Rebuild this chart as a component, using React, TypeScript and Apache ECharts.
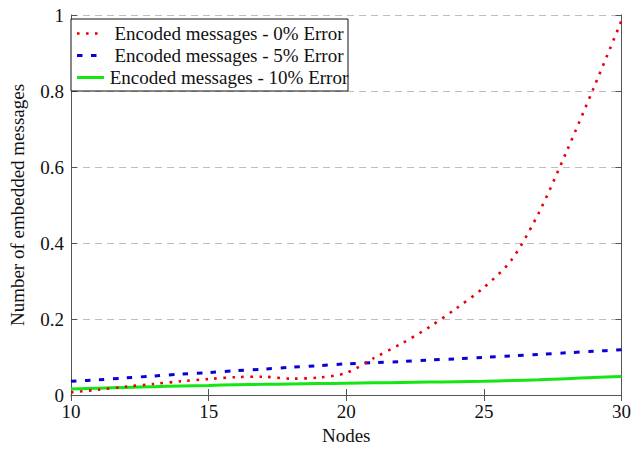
import React, { useEffect, useRef } from "react";
import * as echarts from "echarts";

// Number of nodes on the x axis
const nodes = [10, 11, 12, 13, 14, 15, 16, 17, 18, 19, 20, 21, 22, 23, 24, 25, 26, 27, 28, 29, 30];

// Embedded messages for each error rate
const error0 = [0.007, 0.014, 0.022, 0.029, 0.036, 0.042, 0.047, 0.048, 0.043, 0.046, 0.058, 0.097, 0.135, 0.178, 0.228, 0.283, 0.355, 0.48, 0.64, 0.81, 0.985];
const error5 = [0.036, 0.04, 0.045, 0.05, 0.055, 0.059, 0.064, 0.068, 0.073, 0.077, 0.082, 0.085, 0.088, 0.092, 0.095, 0.099, 0.103, 0.107, 0.111, 0.115, 0.119];
const error10 = [0.016, 0.018, 0.02, 0.022, 0.024, 0.025, 0.027, 0.028, 0.029, 0.03, 0.031, 0.032, 0.033, 0.034, 0.035, 0.036, 0.038, 0.04, 0.043, 0.046, 0.049];

const seriesNames = [
  "Encoded messages - 0% Error",
  "Encoded messages - 5% Error",
  "Encoded messages - 10% Error",
];

const yTicks = [0, 0.2, 0.4, 0.6, 0.8, 1];

const FONT = "Liberation Serif";
const AXIS_COLOR = "#555";
const RED = "#e8000b";
const BLUE = "#0a00d6";
const GREEN = "#14e614";

const styles = [
  { color: RED, width: 2.6, type: [2.6, 6.4] as number[], cap: "butt" },
  { color: BLUE, width: 3, type: [5.5, 8.5] as number[], cap: "butt" },
  { color: GREEN, width: 3, type: "solid" as any, cap: "butt" },
];

const pairs = (vals: number[]) => nodes.map((n, i) => [n, vals[i]]);

export default function App() {
  const ref = useRef<HTMLDivElement>(null);

  useEffect(() => {
    if (!ref.current) return;
    const chart = echarts.init(ref.current, null, { renderer: "svg" });

    const legendX = 71;
    const legendY = 19;
    const rowYs = [33.5, 55.5, 77.5];

    const legendItems: any[] = [
      {
        type: "rect",
        shape: { x: legendX, y: legendY, width: 277, height: 72 },
        style: { fill: "#fff", stroke: "#111", lineWidth: 1 },
        z: 100,
      },
    ];
    seriesNames.forEach((name, i) => {
      const s = styles[i];
      legendItems.push({
        type: "line",
        shape: { x1: 77, y1: rowYs[i], x2: 104, y2: rowYs[i] },
        style: {
          stroke: s.color,
          lineWidth: s.width,
          lineDash: Array.isArray(s.type) ? s.type : null,
        },
        z: 101,
      });
      legendItems.push({
        type: "text",
        x: 229,
        y: rowYs[i],
        style: {
          text: name,
          fontFamily: FONT,
          fontSize: 19,
          fill: "#111",
          align: "center",
          verticalAlign: "middle",
        },
        z: 101,
      });
    });

    const lineSeries = [error0, error5, error10].map((vals, i) => ({
      name: seriesNames[i],
      type: "line",
      data: pairs(vals),
      smooth: 0.3,
      showSymbol: false,
      symbol: "none",
      lineStyle: {
        color: styles[i].color,
        width: styles[i].width,
        type: styles[i].type,
        cap: styles[i].cap,
      },
      z: 3 - i + 2,
    }));

    chart.setOption({
      animation: false,
      backgroundColor: "#fff",
      textStyle: { fontFamily: FONT },
      grid: { left: 62, right: 9, top: 15, bottom: 54, containLabel: false },
      xAxis: [
        {
          type: "value",
          min: 10,
          max: 30,
          interval: 5,
          name: "Nodes",
          nameLocation: "middle",
          nameGap: 31,
          nameTextStyle: { fontFamily: FONT, fontSize: 19, color: "#111" },
          axisLine: { show: true, lineStyle: { color: AXIS_COLOR, width: 1 } },
          axisTick: { show: true, inside: true, length: 6, lineStyle: { color: AXIS_COLOR } },
          axisLabel: { fontFamily: FONT, fontSize: 19, color: "#111", margin: 7 },
          splitLine: { show: false },
        },
        {
          type: "value",
          position: "top",
          min: 10,
          max: 30,
          interval: 5,
          axisLine: { show: true, lineStyle: { color: AXIS_COLOR, width: 1 } },
          axisTick: { show: true, inside: true, length: 6, lineStyle: { color: AXIS_COLOR } },
          axisLabel: { show: false },
          splitLine: { show: false },
        },
      ],
      yAxis: [
        {
          type: "value",
          min: yTicks[0],
          max: yTicks[yTicks.length - 1],
          interval: 0.2,
          name: "Number of embedded messages",
          nameLocation: "middle",
          nameGap: 44,
          nameTextStyle: { fontFamily: FONT, fontSize: 19, color: "#111" },
          axisLine: { show: true, lineStyle: { color: AXIS_COLOR, width: 1 } },
          axisTick: { show: true, inside: true, length: 6, lineStyle: { color: AXIS_COLOR } },
          axisLabel: {
            fontFamily: FONT,
            fontSize: 19,
            color: "#111",
            margin: 7,
            formatter: (v: number) => String(Math.round(v * 10) / 10),
          },
          splitLine: {
            show: true,
            lineStyle: { color: "#bdbdbd", width: 1, type: [7, 5] },
          },
        },
        {
          type: "value",
          position: "right",
          min: 0,
          max: 1,
          interval: 0.2,
          axisLine: { show: true, lineStyle: { color: AXIS_COLOR, width: 1 } },
          axisTick: { show: true, inside: true, length: 6, lineStyle: { color: AXIS_COLOR } },
          axisLabel: { show: false },
          splitLine: { show: false },
        },
      ],
      series: lineSeries,
      graphic: legendItems,
    });

    return () => chart.dispose();
  }, []);

  return (
    <div
      ref={ref}
      style={{ position: "absolute", left: 0, top: 0, width: 634, height: 450 }}
    />
  );
}
